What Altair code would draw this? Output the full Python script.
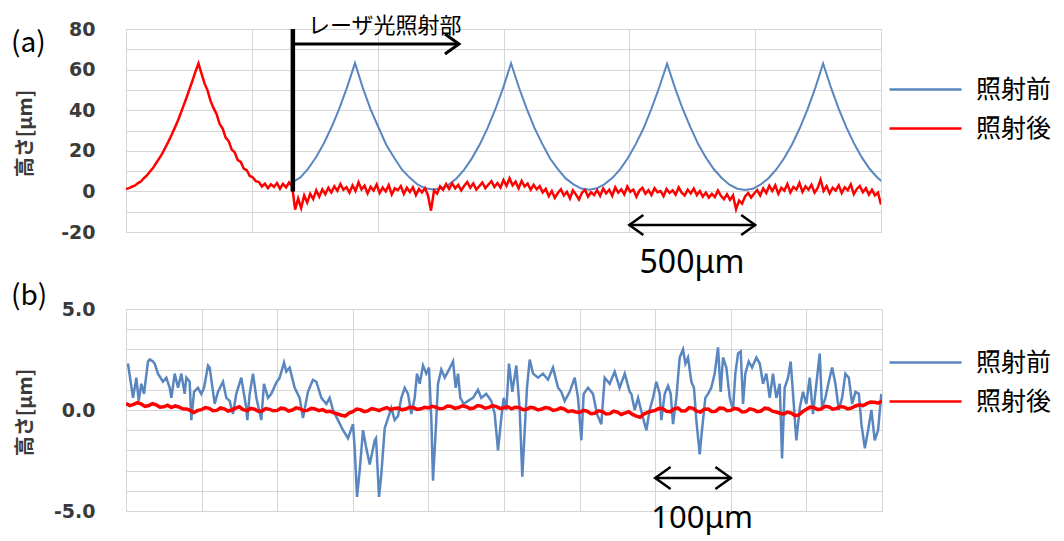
import altair as alt
import pandas as pd

BLUE = "#5a86c0"
RED = "#ff0000"
GRID = "#d6d6d6"
SERIES = ["照射前", "照射後"]

# ---------------- panel (a): 0-3000 um ----------------
blue_a_x0 = 662      # first sample position [um] (starts at the laser line)
blue_a_dx = 31       # sample spacing [um]
blue_a = [
    4.5, 6.9, 11.2, 16.8, 23.6, 31.7, 40.9, 51.5, 63.2,
    51.0, 40.4, 31.6, 23.0, 16.7, 10.8, 6.8, 3.4, 1.5, 0.9,
    1.4, 3.3, 6.4, 10.7, 16.4, 23.2, 31.3, 40.6, 51.1, 63.1,
    51.3, 40.8, 31.3, 23.4, 16.2, 11.0, 6.4, 3.5, 1.4, 0.8,
    1.5, 3.6, 6.7, 11.0, 16.6, 23.4, 31.2, 40.8, 51.3, 62.9,
    51.1, 40.6, 31.5, 23.2, 16.5, 10.9, 6.6, 3.3, 1.3, 0.7,
    1.3, 3.4, 6.5, 10.8, 16.3, 23.0, 31.1, 40.4, 51.0, 63.0,
    51.2, 40.7, 31.4, 23.3, 16.5, 10.9, 6.6, 3.5, 1.6, 1.0,
]
red_a_dx = 12        # sample spacing [um], from 0
red_a = [
    1.2, 1.6, 2.3, 2.9, 4.1, 5.0, 6.6, 8.0, 9.9, 11.6, 14.0, 16.3, 18.6, 21.5,
    24.4, 27.5, 30.8, 34.2, 38.0, 42.0, 46.0, 50.3, 54.5, 59.0, 63.0,
    58.0, 53.2, 49.8, 44.6, 41.0, 38.1, 33.2, 30.9, 26.5, 24.8, 20.6, 19.3,
    15.4, 14.5, 11.2, 10.4, 7.6, 6.9,
    5.0, 4.6, 2.4, 3.8, 1.6, 3.5, 2.2, 4.1, 1.3, 3.7, 2.0, 4.4, 2.6,
    -9.0, -3.5, -8.2, -2.0, -5.5, -1.2, -3.8, 0.5, -2.6, 1.0,
    -1.4, 1.8, -0.5, 2.4, 0.3, 3.6, 0.8, 2.1, -0.6, 3.0,
    0.2, 4.5, 1.0, 2.8, -1.0, 2.2, 0.4, 3.4, -0.8, 1.9, 0.0, 3.1, -1.5, 1.5,
    0.6, 2.6, -1.2, 1.8, -0.3, 2.0, -1.8, 1.2, -0.5, 1.6, -2.0, -9.5, 0.5, -1.0,
    2.5, 0.8, 3.6, 1.2, 4.0, 1.5, 3.2, 0.5, 2.8, 4.6, 1.8, 3.9, 0.9, 2.6, 4.4,
    1.6, 3.4, 5.0, 2.2, 4.1, 1.9,
    5.6, 2.8, 6.5, 3.0, 4.8, 1.5, 5.2, 2.4, 3.8, 0.8, 3.2, 1.0, 2.6,
    -0.5, 1.2, -2.4, 0.2, -3.2, -0.8, 1.0, -2.0, -0.2, -3.5, 0.5, -1.6, -4.0,
    -0.6, 0.8, -2.6, -0.4, -1.8, 0.6, -2.2,
    1.4, -1.0, 0.8, -2.2, 2.0, -0.6, 1.0, -1.5, 2.4, -0.2, 0.9, -2.6, 0.4, 1.8,
    -1.2, 0.6, -1.8, 1.6, -0.4, 0.2, -2.4, 1.2, -0.8, 0.5, -1.6, 2.0, -0.6, -2.0,
    0.8, -1.0, 1.4, -1.8, 0.2,
    -2.6, -0.6, -3.0, -1.2, -2.8, 0.4, -2.2, -3.8, -1.4, -4.2, -2.0, -8.8, -4.5,
    -6.0, -2.5, -0.8, -3.0, -1.0, 0.6, -2.0,
    1.5, -0.8, 2.8, 0.2, 3.0, -1.2, 1.8, 0.4, 3.6, -0.5, 2.2, 0.9, 4.2, -0.2,
    2.5, 0.8, 3.2, -0.6, 1.6, 5.8, 0.2, 2.6, -1.0, 1.8, 0.4, 3.0, -0.8, 2.0,
    0.6, 3.4, -1.4, 1.2, 2.6, -0.4, 1.6, -1.6, 0.8, -2.0, -0.6, -6.5,
]

# ---------------- panel (b): 0-1000 um ----------------
blue_b_x = [
    2.6, 9.3, 13.7, 16.8, 20.3, 23.8, 29.1, 31.3, 35.7, 37.9, 42.3, 48.9, 53.4,
    57.8, 60.0, 64.4, 68.8, 73.2, 77.6, 79.8, 84.2, 86.4, 90.0, 95.2, 99.6,
    103.2, 108.5, 110.7, 117.3, 121.7, 128.3, 132.7, 137.1, 141.5, 145.9, 152.5,
    159.1, 160.5, 163.6, 168.0, 172.4, 179.0, 182.5, 187.8, 192.2, 198.8, 203.3,
    209.0, 212.0, 216.5, 223.1, 229.7, 234.1, 240.7, 247.3, 251.8, 258.4, 265.0,
    269.4, 273.8, 280.4, 287.0, 293.7, 300.3, 302.5, 305.6, 309.1, 313.5, 317.9,
    322.4, 329.0,
    330.7, 334.7, 337.7, 342.2, 346.6, 351.0, 355.4, 359.8, 364.2, 368.7, 373.0,
    377.4, 381.9, 384.9, 388.5, 392.9, 397.2, 400.8, 403.9, 406.1, 409.7, 412.7,
    417.1, 421.6, 425.9, 432.6, 436.1, 439.2, 442.2, 446.7, 452.4, 459.0, 465.6,
    470.0, 476.6, 483.2, 487.7, 492.1, 496.4, 499.6, 503.1, 506.6, 511.0, 516.3,
    520.8, 524.2, 527.4, 530.4, 534.0, 538.4, 545.0, 551.6, 558.2, 564.8, 571.5,
    575.8, 580.3, 586.9, 593.5, 597.9, 602.3, 605.4, 611.1, 617.7, 623.0, 628.7,
    633.2, 639.8, 646.4, 653.0, 659.7, 666.3,
    668.4, 672.9, 677.3, 683.9, 688.3, 692.7, 697.1, 701.5, 706.0, 708.1, 712.6,
    717.0, 720.5, 723.6, 728.0, 732.4, 736.8, 739.9, 743.4, 747.8, 751.3, 754.4,
    758.9, 761.9, 766.3, 769.9, 774.2, 778.7, 783.1, 786.6, 789.7, 794.1, 798.6,
    802.9, 806.0, 809.6, 813.1, 816.2, 819.2, 823.7, 828.1, 833.8, 838.3, 842.6,
    847.0, 851.5, 855.8, 860.2, 864.7, 867.8, 871.3, 875.7, 879.2, 882.7, 886.7,
    891.2, 895.5, 899.9, 904.4, 908.7, 913.2, 917.6, 920.7, 925.1, 929.6, 934.0,
    938.4, 942.9, 947.2, 951.6, 956.1, 960.5, 964.9, 969.4, 972.8, 977.3, 981.6,
    986.0, 990.4, 994.8, 999.1,
]
blue_b = [
    2.3, 0.6, 1.6, 0.45, 1.3, 0.8, 2.4, 2.5, 2.4, 2.3, 1.8, 1.4, 1.6, 1.1, 0.6,
    1.8, 1.1, 1.8, 0.8, 1.6, 1.4, -0.5, 0.9, 1.1, 0.8, 1.1, 2.2, 2.1, 0.3, 0.9,
    1.4, 0.6, 0.45, -0.2, 0.8, 1.6, 0.1, -0.5, 0.8, 1.8, 0.6, -0.5, 1.3, 0.6,
    0.8, 1.35, 1.6, 2.35, 1.9, 2.1, 1.1, 0.6, -0.4, 0.9, 1.5, 1.4, 0.6, 0.3,
    0.6, 0.0, -0.5, -1.0, -1.4, -0.7, -1.9, -4.3, -3.0, -1.0, -1.9, -2.7, -1.5,
    -1.4, -4.3, -3.2, -0.9, -0.4, 0.1, -0.5, -0.3, 0.6, 1.1, 0.8, -0.2, 0.6,
    1.8, 1.3, 2.2, 1.8, 2.1, -0.5, -3.5, -1.0, 1.3, 2.0, 1.6, 1.9, 2.4, 1.1,
    1.8, 0.6, 0.3, 0.45, 0.6, 1.0, 0.6, 0.8, 0.45, -0.2, -2.0, -0.4, 0.6, 0.0,
    2.3, 0.9, 2.2, 0.0, -3.3, -1.0, 1.1, 2.5, 1.8, 1.6, 1.8, 1.5, 2.1, 1.1,
    0.9, 0.45, 0.9, 1.6, 0.6, -1.5, 0.8, 1.1, 0.8, -0.2, -0.7, 1.6, 1.3, 1.9,
    1.1, 1.8, 0.9,
    0.8, 0.0, 0.6, -0.4, -1.0, 0.0, 0.6, 1.4, 0.8, -0.5, 0.8, 1.2, 0.8, -0.7,
    0.6, 2.6, 3.0, 2.3, 2.6, 1.4, 1.1, -0.5, -2.2, -1.0, 0.6, 0.8, 1.1, 1.8,
    3.1, 0.9, 2.6, 2.1, 0.6, 0.0, 1.8, 2.8, 2.9, 0.3, 1.8, 2.4, 2.1, 2.6, 2.3,
    1.3, 1.8, 0.6, 1.8, 0.6, 1.3, -2.4, 1.1, 1.6, 2.4, 0.6, -1.5, 0.1, 0.9,
    0.3, 1.6, -0.2, 1.3, 2.8, 0.1, 0.6, 1.4, 2.1, 1.3, 0.0, 0.6, 1.8, 1.6, 0.3,
    0.9, 0.8, -0.7, -1.9, -1.0, 0.0, -1.5, -1.0, 0.8,
]
red_b_dx = 5         # sample spacing [um], from 0
red_b = [
    0.32, 0.22, 0.28, 0.36, 0.30, 0.18, 0.22, 0.31, 0.25, 0.14,
    0.16, 0.24, 0.12, 0.20, 0.15, 0.06, 0.05, -0.02, -0.12, -0.02,
    0.02, 0.12, 0.08, -0.04, -0.02, 0.10, 0.06, -0.05, 0.0, 0.09,
    0.16, 0.02, -0.03, 0.08, 0.04, -0.06, -0.05, 0.07, 0.03, -0.04,
    -0.02, 0.09, 0.06, -0.05, 0.0, 0.11, 0.07, -0.04, -0.02, 0.08,
    0.05, -0.03, 0.02, -0.08, -0.06, -0.14, -0.2, -0.26, -0.3, -0.15,
    -0.08, 0.05, 0.02, -0.08, -0.04, 0.07, 0.03, -0.03, 0.06, 0.12,
    0.02, 0.08, 0.1, 0.01, 0.05, 0.14, 0.12, 0.03, 0.06, 0.13,
    0.1, 0.18, 0.14, 0.06, 0.08, 0.2, 0.18, 0.08, 0.12, 0.21,
    0.16, 0.07, 0.1, 0.22, 0.19, 0.09, 0.13, 0.22, 0.17, 0.08,
    0.11, 0.16, 0.06, 0.14, 0.12, 0.02, 0.04, 0.13, 0.1, 0.0,
    0.05, 0.12, 0.09, -0.02, 0.02, 0.1, 0.04, -0.08, -0.04, -0.1,
    -0.12, -0.02, -0.06, -0.18, -0.16, -0.04, -0.08, -0.2, -0.18, -0.06,
    -0.1, -0.22, -0.15, -0.08, -0.22, -0.3, -0.36, -0.2, -0.12, -0.06,
    -0.02, 0.08, 0.06, -0.06, -0.08, 0.06, 0.1, -0.05, -0.04, 0.12,
    0.08, -0.06, -0.1, 0.04, 0.05, -0.08, -0.06, 0.1, 0.09, -0.04,
    -0.02, 0.08, 0.04, -0.1, -0.08, 0.06, 0.02, -0.08, -0.05, 0.09,
    0.06, -0.06, -0.1, -0.16, -0.2, -0.1, -0.15, -0.28, -0.24, -0.08,
    0.04, 0.14, 0.12, 0.02, 0.06, 0.18, 0.15, 0.04, 0.08, 0.17,
    0.14, 0.05, 0.1, 0.2, 0.26, 0.22, 0.32, 0.4, 0.38, 0.34,
    0.45,
]

# ---------------- axes / annotations ----------------
a_xgrid = [0, 500, 1000, 1500, 2000, 2500, 3000]
a_ygrid = [-20, -10, 0, 10, 20, 30, 40, 50, 60, 70, 80]
b_xgrid = [0, 100, 200, 300, 400, 500, 600, 700, 800, 900, 1000]
b_ygrid = [-5, -4, -3, -2, -1, 0, 1, 2, 3, 4, 5]

laser_x = 663
laser_arrow_end = 1323
laser_arrow_y = 72.6
laser_label = "レーザ光照射部"
scale_a = (2000, 2500, -16.5, "500μm")
scale_b = (700, 800, -3.37, "100μm")
Y_TITLE = "高さ[μm]"

AXIS_LABEL = dict(labelFont="DejaVu Sans", labelFontWeight="bold",
                  labelFontSize=19, labelColor="#3a3a3a")
TITLE = dict(titleFont="Noto Sans CJK JP", titleFontWeight="bold",
             titleFontSize=20, titleColor="#3a3a3a", titleAngle=270,
             titleAlign="center", titleBaseline="middle")

RIGHT_HEAD = "M-1.4,-1L0,0L-1.4,1"
LEFT_HEAD = "M1.4,-1L0,0L1.4,1"


def legend(ly):
    return alt.Legend(title=None, orient="none", legendX=786, legendY=ly,
                      direction="vertical", symbolType="M-3,0L3,0",
                      symbolSize=576, symbolStrokeWidth=2.5,
                      labelFont="Noto Sans CJK JP", labelFontSize=25,
                      labelColor="black", labelOffset=37, rowPadding=12)


def panel(xdom, ydom, xgrid, ygrid, label_expr, w, h, title_y, blue_df, red_df,
          bw, rw, ly, extra):
    x = alt.X("x:Q", scale=alt.Scale(domain=xdom, nice=False, zero=False),
              axis=alt.Axis(values=xgrid, labels=False, ticks=False,
                            domain=False, grid=True, gridColor=GRID,
                            title=None))
    y = alt.Y("y:Q", scale=alt.Scale(domain=ydom, nice=False, zero=False),
              axis=alt.Axis(values=ygrid, labelExpr=label_expr, ticks=False,
                            domain=False, grid=True, gridColor=GRID,
                            labelPadding=31, title=Y_TITLE, titleX=-101,
                            titleY=title_y, **AXIS_LABEL, **TITLE))
    color = alt.Color("s:N", scale=alt.Scale(domain=SERIES, range=[BLUE, RED]),
                      legend=legend(ly))
    blue = alt.Chart(blue_df).mark_line(strokeWidth=bw, clip=True).encode(
        x=x, y=y, color=color)
    red = alt.Chart(red_df).mark_line(strokeWidth=rw, clip=True).encode(
        x=x, y=y, color=color)
    layers = [blue, red] + [f(x, y) for f in extra]
    return alt.layer(*layers).properties(width=w, height=h)


def double_arrow(sc, head_size):
    x1, x2, yv, txt = sc
    d = pd.DataFrame({"x": [x1], "x2": [x2], "y": [yv]})
    heads = pd.DataFrame({"x": [x1, x2], "y": [yv, yv], "side": ["l", "r"]})

    def f(x, y):
        shaft = alt.Chart(d).mark_rule(color="black", strokeWidth=2.5).encode(
            x=x, x2=alt.X2("x2"), y=y)
        lh = alt.Chart(heads[heads.side == "l"]).mark_point(
            shape=LEFT_HEAD, size=head_size, filled=False, color="black",
            strokeWidth=2.5, opacity=1).encode(x=x, y=y)
        rh = alt.Chart(heads[heads.side == "r"]).mark_point(
            shape=RIGHT_HEAD, size=head_size, filled=False, color="black",
            strokeWidth=2.5, opacity=1).encode(x=x, y=y)
        return alt.layer(shaft, lh, rh)
    return f


def text_layer(xv, yv, txt, size, font, align="left", weight="normal"):
    d = pd.DataFrame({"x": [xv], "y": [yv], "t": [txt]})

    def f(x, y):
        return alt.Chart(d).mark_text(align=align, baseline="middle",
                                      font=font, fontSize=size,
                                      fontWeight=weight, color="black").encode(
            x=x, y=y, text="t:N")
    return f


def laser_marks(x, y):
    vline = alt.Chart(pd.DataFrame({"x": [laser_x], "y": [0], "y2": [80]})).mark_rule(
        color="black", strokeWidth=4.5).encode(x=x, y=y, y2=alt.Y2("y2"))
    harrow = alt.Chart(pd.DataFrame({"x": [laser_x], "x2": [laser_arrow_end],
                                     "y": [laser_arrow_y]})).mark_rule(
        color="black", strokeWidth=3).encode(x=x, x2=alt.X2("x2"), y=y)
    head = alt.Chart(pd.DataFrame({"x": [laser_arrow_end], "y": [laser_arrow_y]})).mark_point(
        shape=RIGHT_HEAD, size=400, filled=False, color="black",
        strokeWidth=3, opacity=1).encode(x=x, y=y)
    return alt.layer(vline, harrow, head)


# ---------------- data frames ----------------
df_blue_a = pd.DataFrame({"x": [blue_a_x0 + i * blue_a_dx for i in range(len(blue_a))],
                          "y": blue_a, "s": SERIES[0]})
df_red_a = pd.DataFrame({"x": [i * red_a_dx for i in range(len(red_a))],
                         "y": red_a, "s": SERIES[1]})
df_blue_b = pd.DataFrame({"x": blue_b_x, "y": blue_b, "s": SERIES[0]})
df_red_b = pd.DataFrame({"x": [i * red_b_dx for i in range(len(red_b))],
                         "y": red_b, "s": SERIES[1]})

label_a = "datum.value % 20 == 0 ? (datum.value < 0 ? '-' + abs(datum.value) : '' + datum.value) : ''"
label_b = "datum.value == 5 ? '5.0' : (datum.value == 0 ? '0.0' : (datum.value == -5 ? '-5.0' : ''))"

top = panel([0, 3000], [-20, 80], a_xgrid, a_ygrid, label_a, 755, 203, 104,
            df_blue_a, df_red_a, 2, 2.5, 47,
            [laser_marks,
             text_layer(723, 81.5, laser_label, 22, "Noto Sans CJK JP"),
             double_arrow(scale_a, 400),
             text_layer(2249, -35.3, scale_a[3], 32, "Noto Sans", align="center"),
             text_layer(-457, 72.6, "(a)", 28, "Noto Sans CJK JP")])

bottom = panel([0, 1000], [-5, 5], b_xgrid, b_ygrid, label_b, 756, 202, 103,
               df_blue_b, df_red_b, 2.5, 3.5, 40,
               [double_arrow(scale_b, 484),
                text_layer(762, -5.4, scale_b[3], 31, "Noto Sans", align="center"),
                text_layer(-152, 5.59, "(b)", 28, "Noto Sans CJK JP")])

chart = alt.vconcat(top, bottom, spacing=77, bounds="flush").resolve_scale(
    x="independent", y="independent", color="independent"
).resolve_legend(color="independent").properties(
    padding={"left": 2, "top": 6, "right": 0, "bottom": 4}
).configure_view(strokeWidth=0).configure(background="white")

chart.save("out.html", embed_options={"renderer": "svg", "actions": False})
